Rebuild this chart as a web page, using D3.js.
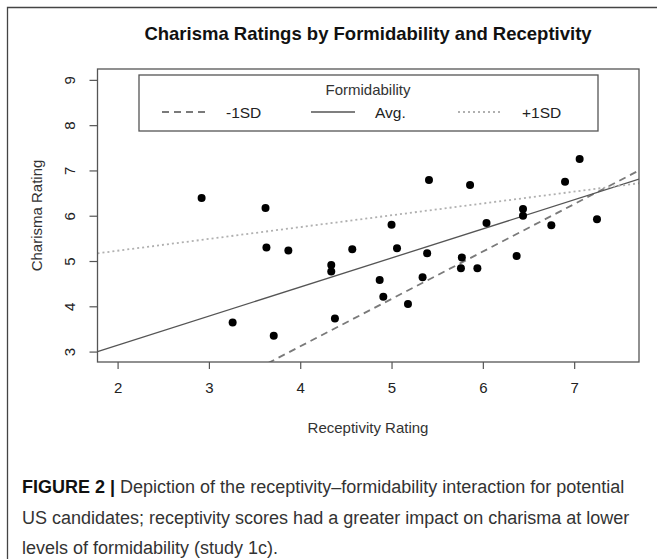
<!DOCTYPE html>
<html>
<head>
<meta charset="utf-8">
<script src="https://cdn.jsdelivr.net/npm/d3@7"></script>
<style>
  body { margin: 0; background: #fff; }
  svg { display: block; }
</style>
</head>
<body>
<svg width="657" height="559"></svg>
<script>
// Data
var receptivity = [2.92, 3.62, 3.63, 3.87, 4.57, 5.41, 5.86, 7.06, 6.90, 5.00,
                   6.04, 6.44, 6.44, 6.75, 7.25, 5.06, 5.39, 5.77, 6.37, 4.34,
                   4.34, 3.26, 3.71, 4.38, 4.87, 5.34, 5.76, 5.94, 4.91, 5.18];
var charisma = [6.39, 6.17, 5.30, 5.23, 5.26, 6.79, 6.68, 7.25, 6.75, 5.80,
                5.84, 6.15, 6.00, 5.79, 5.92, 5.28, 5.17, 5.08, 5.11, 4.91,
                4.77, 3.64, 3.35, 3.73, 4.58, 4.64, 4.84, 4.84, 4.21, 4.05];

// simple slopes for each formidability level
var levels = ["-1SD", "Avg.", "+1SD"];
var intercepts = [-1.073, 1.857, 4.705];
var slopes = [1.047, 0.642, 0.261];

var xTicks = [2, 3, 4, 5, 6, 7];
var yTicks = [3, 4, 5, 6, 7, 8, 9];

var captionLines = [
    ["FIGURE 2 |", " Depiction of the receptivity\u2013formidability interaction for potential"],
    ["", "US candidates; receptivity scores had a greater impact on charisma at lower"],
    ["", "levels of formidability (study 1c)."]
];

// plot box (note: "top" is taken by window.top)
var boxLeft = 97.5, boxRight = 639, boxTop = 69, boxBottom = 362;
var font = "Liberation Sans, Arial, sans-serif";

var svg = d3.select("svg");

// outer frame (only top and left edges show)
svg.append("path")
    .attr("d", "M7.5,559 L7.5,7.5 L657,7.5")
    .attr("fill", "none")
    .attr("stroke", "#444")
    .attr("stroke-width", 1.3);

var xscale = d3.scaleLinear().domain([1.78, 7.71]).range([boxLeft, boxRight]);
var yscale = d3.scaleLinear().domain([2.77, 9.24]).range([boxBottom, boxTop]);

// Title
svg.append("text")
    .attr("x", 368)
    .attr("y", 40)
    .attr("text-anchor", "middle")
    .style("font-family", font)
    .style("font-weight", "bold")
    .style("font-size", "18.5px")
    .style("fill", "#111")
    .text("Charisma Ratings by Formidability and Receptivity");

// clip for the regression lines
svg.append("clipPath")
    .attr("id", "plotclip")
    .append("rect")
    .attr("x", boxLeft).attr("y", boxTop)
    .attr("width", boxRight - boxLeft).attr("height", boxBottom - boxTop);

var styles = [
    {stroke: "#7a7a7a", width: 1.8, dash: "7,5"},
    {stroke: "#555", width: 1.3, dash: null},
    {stroke: "#b0b0b0", width: 1.8, dash: "2,3"}
];

var line = d3.line()
    .x(function(d) { return xscale(d[0]); })
    .y(function(d) { return yscale(d[1]); });

svg.append("g")
    .attr("clip-path", "url(#plotclip)")
    .selectAll("path")
    .data(levels)
    .enter().append("path")
    .attr("d", function(d, i) {
        var xd = xscale.domain();
        return line(xd.map(function(x) { return [x, intercepts[i] + slopes[i] * x]; }));
    })
    .attr("fill", "none")
    .attr("stroke", function(d, i) { return styles[i].stroke; })
    .attr("stroke-width", function(d, i) { return styles[i].width; })
    .attr("stroke-dasharray", function(d, i) { return styles[i].dash; });

// points
svg.append("g")
    .selectAll("circle")
    .data(receptivity)
    .enter().append("circle")
    .attr("cx", function(d) { return xscale(d); })
    .attr("cy", function(d, i) { return yscale(charisma[i]); })
    .attr("r", 4)
    .attr("fill", "#000");

// plot box
svg.append("rect")
    .attr("x", boxLeft).attr("y", boxTop)
    .attr("width", boxRight - boxLeft).attr("height", boxBottom - boxTop)
    .attr("fill", "none")
    .attr("stroke", "#555")
    .attr("stroke-width", 1.3);

// Bottom axis
var xaxis = svg.append("g")
    .attr("transform", "translate(0," + boxBottom + ")")
    .call(d3.axisBottom(xscale).tickValues(xTicks).tickSize(7).tickPadding(13).tickFormat(d3.format("d")));
xaxis.select(".domain").remove();
xaxis.selectAll("line").attr("stroke", "#555").attr("stroke-width", 1.2);
xaxis.selectAll("text")
    .style("font-family", font)
    .style("font-size", "15px")
    .style("fill", "#222");

// Left axis, labels parallel to the axis like base R
var yaxis = svg.append("g")
    .attr("transform", "translate(" + boxLeft + ",0)")
    .call(d3.axisLeft(yscale).tickValues(yTicks).tickSize(8).tickFormat(d3.format("d")));
yaxis.select(".domain").remove();
yaxis.selectAll("line").attr("stroke", "#555").attr("stroke-width", 1.2);
yaxis.selectAll("text")
    .attr("x", 0).attr("y", 0).attr("dy", "0.35em")
    .attr("text-anchor", "middle")
    .attr("transform", "translate(-28,0) rotate(-90)")
    .style("font-family", font)
    .style("font-size", "15px")
    .style("fill", "#222");

// Axis titles
svg.append("text")
    .attr("x", 368)
    .attr("y", 433)
    .attr("text-anchor", "middle")
    .style("font-family", font)
    .style("font-size", "15px")
    .style("fill", "#333")
    .text("Receptivity Rating");

svg.append("text")
    .attr("transform", "translate(42," + ((boxTop + boxBottom) / 2) + ") rotate(-90)")
    .attr("text-anchor", "middle")
    .style("font-family", font)
    .style("font-size", "15px")
    .style("fill", "#333")
    .text("Charisma Rating");

// Legend
var legend = svg.append("g");
legend.append("rect")
    .attr("x", 139).attr("y", 75)
    .attr("width", 459).attr("height", 56)
    .attr("fill", "#fff")
    .attr("stroke", "#555")
    .attr("stroke-width", 1.3);
legend.append("text")
    .attr("x", 368).attr("y", 95)
    .attr("text-anchor", "middle")
    .style("font-family", font)
    .style("font-size", "15px")
    .style("fill", "#333")
    .text("Formidability");

var legendX = [162, 311, 458];
var items = legend.selectAll(".item")
    .data(levels)
    .enter().append("g")
    .attr("class", "item")
    .attr("transform", function(d, i) { return "translate(" + legendX[i] + ",112)"; });
items.append("line")
    .attr("x1", 0).attr("x2", 44)
    .attr("stroke", function(d, i) { return styles[i].stroke; })
    .attr("stroke-width", function(d, i) { return styles[i].width; })
    .attr("stroke-dasharray", function(d, i) { return styles[i].dash; });
items.append("text")
    .attr("x", 64).attr("y", 5.5)
    .style("font-family", font)
    .style("font-size", "15.5px")
    .style("fill", "#222")
    .text(function(d) { return d; });

// Caption
var caption = svg.append("g")
    .selectAll("text")
    .data(captionLines)
    .enter().append("text")
    .attr("x", 22)
    .attr("y", function(d, i) { return 493 + i * 30.5; })
    .style("font-family", font)
    .style("font-size", "18px")
    .style("fill", "#333");
caption.append("tspan")
    .style("font-weight", "bold")
    .style("fill", "#111")
    .text(function(d) { return d[0]; });
caption.append("tspan")
    .text(function(d) { return d[1]; });
</script>
</body>
</html>
